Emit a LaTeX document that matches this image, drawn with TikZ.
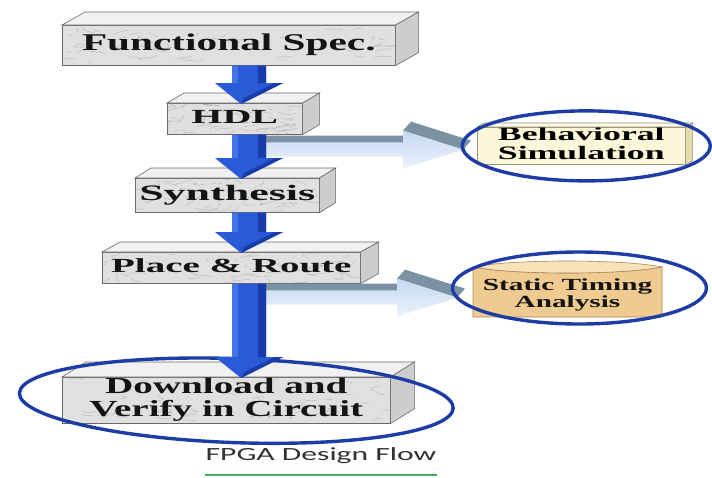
\documentclass[tikz,border=0pt]{standalone}
\usepackage{fontspec}
\setmainfont{Liberation Serif}
\newfontfamily\capfont{Carlito}
\usetikzlibrary{calc}

\definecolor{flowblue}{RGB}{43,90,216}
\definecolor{flowlight}{RGB}{66,116,232}
\definecolor{flowdark}{RGB}{26,60,170}
\definecolor{edge}{RGB}{105,105,105}
\definecolor{marblefront}{RGB}{224,224,224}
\definecolor{marbletop}{RGB}{241,241,241}
\definecolor{marbleside}{RGB}{205,205,205}
\definecolor{slate}{RGB}{122,146,162}
\definecolor{paleblue}{RGB}{198,216,241}
\definecolor{paleblue2}{RGB}{236,243,252}
\definecolor{ringblue}{RGB}{30,60,166}
\definecolor{cream}{RGB}{252,247,216}
\definecolor{creamside}{RGB}{228,220,170}
\definecolor{creamtop}{RGB}{253,251,232}
\definecolor{creamedge}{RGB}{150,145,120}
\definecolor{tanfront}{RGB}{239,203,145}
\definecolor{tantop}{RGB}{247,226,186}
\definecolor{tanedge}{RGB}{170,135,90}
\definecolor{capgreen}{RGB}{70,170,88}
\definecolor{captext}{RGB}{50,50,50}

% horizontally widened bold label, one or more centred lines
\newcommand\lbl[4]{\scalebox{#1}[1]{\fontsize{#2}{#3}\selectfont\bfseries\begin{tabular}{@{}c@{}}#4\end{tabular}}}

% top and right faces of a solid block whose front face is node #1
\newcommand\solidfaces[3]{%
  \filldraw[fill=marbletop, draw=edge, line width=0.6pt]
    (#1.north west) -- ++(#2,#3) -- ([shift={(#2,#3)}]#1.north east) -- (#1.north east) -- cycle;
  \filldraw[fill=marbleside, draw=edge, line width=0.6pt]
    (#1.north east) -- ++(#2,#3) -- ([shift={(#2,#3)}]#1.south east) -- (#1.south east) -- cycle;
}

% thick blue downward flow arrow: #1 top of shaft (on the spine), #2 tip
\newcommand\flowdown[2]{%
  \fill[flowblue] let \p1=(#1), \p2=(#2) in
    ({\x1-17pt},\y1) -- ({\x1+17pt},\y1) -- ({\x1+17pt},{\y2+21pt}) -- ({\x1+34pt},{\y2+21pt})
    -- (\x2,\y2) -- ({\x1-34pt},{\y2+21pt}) -- ({\x1-17pt},{\y2+21pt}) -- cycle;
  \fill[flowlight] let \p1=(#1), \p2=(#2) in
    ({\x1-17pt},\y1) -- ({\x1-11pt},\y1) -- ({\x1-11pt},{\y2+21pt}) -- ({\x1-17pt},{\y2+21pt}) -- cycle;
  \fill[flowdark] let \p1=(#1), \p2=(#2) in
    ({\x1+9pt},\y1) -- ({\x1+17pt},\y1) -- ({\x1+17pt},{\y2+21pt}) -- ({\x1+9pt},{\y2+21pt}) -- cycle
    ({\x1+34pt},{\y2+21pt}) -- (\x2,\y2) -- ({\x2+3pt},{\y2+6pt}) -- ({\x1+26pt},{\y2+21pt}) -- cycle;
}

% flat side arrow with a dark top face: #1 top-left of its shaft, #2 tip (x used)
\newcommand\flatarrow[2]{%
  \fill[slate] let \p1=(#1), \p2=(#2), \n1={\y1-14pt}, \n2={\x2-60pt} in
    (\x1,\y1) -- (\n2,\y1) -- (\n2,{\y1-7pt}) -- (\x1,{\y1-7pt}) -- cycle
    (\n2,{\n1+19}) -- ({\n2+8},{\n1+28}) -- ({\x2+8pt},{\n1+9}) -- (\x2,\n1) -- cycle;
  \shade[top color=paleblue, bottom color=paleblue2] let \p1=(#1), \p2=(#2), \n1={\y1-14pt}, \n2={\x2-60pt} in
    (\x1,{\y1-7pt}) -- (\n2,{\y1-7pt}) -- (\n2,{\n1+19}) -- (\x2,\n1) -- (\n2,{\n1-19})
    -- (\n2,{\y1-21pt}) -- (\x1,{\y1-21pt}) -- cycle;
}

\tikzset{
  marble/.style={draw=black!45, line width=0.5pt, opacity=0.4},
  stagebox/.style={draw=edge, line width=0.6pt, fill=marblefront, inner sep=0pt,
    anchor=north west, text=black!92,
    path picture={
      \foreach \k in {1,...,60}{
        \draw[marble] let \p1=(path picture bounding box.south west),
                          \p2=(path picture bounding box.north east) in
          ({\x1+rnd*(\x2-\x1)},{\y1+rnd*(\y2-\y1)})
          .. controls +({rnd*16-8},{rnd*6-3}) and +({rnd*16-8},{rnd*6-3}) .. +({rnd*34-17},{rnd*8-4});
      }
    }},
  ring/.style={draw=ringblue, line width=3.4pt},
}

\begin{document}
\begin{tikzpicture}[x=1pt, y=1pt]
  \pgfmathsetseed{4127}
  \fill[white] (0,0) rectangle (712,-477);
  \useasboundingbox (0,0) rectangle (712,-477);

  \coordinate (spine) at (249,0);

  % design-flow stages
  \node[stagebox, minimum width=333pt, minimum height=40pt] (fs) at (62,-25)
    {\lbl{1.72}{24}{26}{Functional Spec.}};
  \solidfaces{fs}{23}{13}
  \node[stagebox, minimum width=135pt, minimum height=31pt] (hdl) at (167,-103)
    {\lbl{2.0}{20}{22}{HDL}};
  \solidfaces{hdl}{17}{10}
  \node[stagebox, minimum width=184pt, minimum height=34pt] (syn) at (135,-178)
    {\lbl{2.0}{22}{24}{Synthesis}};
  \solidfaces{syn}{16}{10}
  \node[stagebox, minimum width=258pt, minimum height=31pt] (pr) at (102,-252)
    {\lbl{1.95}{20}{22}{Place \& Route}};
  \solidfaces{pr}{18}{10}
  \node[stagebox, minimum width=328pt, minimum height=46pt] (dl) at (62,-377)
    {\lbl{1.7}{23}{21}{Download and\\Verify in Circuit}};
  \solidfaces{dl}{24}{15}

  % verification steps
  \node[draw=creamedge, line width=0.6pt, fill=cream, inner sep=0pt, anchor=north west,
        minimum width=208pt, minimum height=36pt] (beh) at (477,-127)
    {\lbl{1.88}{19}{18}{Behavioral\\Simulation}};
  \filldraw[fill=creamtop, draw=creamedge, line width=0.6pt]
    (beh.north west) -- ++(7,4) -- ([shift={(7,4)}]beh.north east) -- (beh.north east) -- cycle;
  \filldraw[fill=creamside, draw=creamedge, line width=0.6pt]
    (beh.north east) -- ++(7,4) -- ([shift={(7,4)}]beh.south east) -- (beh.south east) -- cycle;

  \coordinate (stat) at (473,-267);
  \coordinate (statse) at (662,-317);
  \filldraw[fill=tanfront, draw=tanedge, line width=0.6pt]
    (stat) .. controls +(40,-8) and +(-40,-8) .. (stat -| statse) -- (statse) -- (stat |- statse) -- cycle;
  \filldraw[fill=tantop, draw=tanedge, line width=0.6pt]
    (stat) .. controls +(40,-8) and +(-40,-8) .. (stat -| statse)
    .. controls +(-40,8) and +(40,8) .. (stat);
  \node[inner sep=0pt, text=black!92] (stattext) at ($(stat)!0.5!(statse)+(0,-4)$)
    {\lbl{1.72}{17}{17}{Static Timing\\Analysis}};

  % side arrows towards the verification steps
  \flatarrow{$(spine |- hdl.south)+(13,-1)$}{$(beh.west)+(-14,0)$}
  \flatarrow{$(spine |- pr.south)+(13,0)$}{$(stat |- stattext)+(-16,0)$}

  % ring round the final stage
  \draw[ring, rotate around={-2:($(dl.center)+(10,0)$)}] ($(dl.center)+(10,0)$) ellipse [x radius=217, y radius=42];

  % main flow arrows
  \coordinate (t1) at ($(spine |- hdl.north)+(-8,-1)$);
  \coordinate (t2) at ($(spine |- syn.north)+(-8,-1)$);
  \coordinate (t3) at ($(spine |- pr.north)+(-8,-1)$);
  \coordinate (t4) at ($(spine |- dl.north)+(-8,-1)$);
  \flowdown{spine |- fs.south}{t1}
  \flowdown{spine |- hdl.south}{t2}
  \flowdown{spine |- syn.south}{t3}
  \flowdown{spine |- pr.south}{t4}

  % rings round the verification steps
  \draw[ring] ($(beh.center)+(5,0)$) ellipse [x radius=124, y radius=35];
  \draw[ring] ($(stattext.center)+(12,8)$) ellipse [x radius=127, y radius=36];

  % caption
  \node[anchor=base, inner sep=0pt, text=captext] (cap) at (321,-460)
    {\scalebox{1.7}[1]{\capfont\fontsize{18.6}{22}\selectfont FPGA Design Flow}};
  \draw[capgreen, line width=1.4pt] ([yshift=-15pt]cap.base west) -- ([yshift=-15pt]cap.base east);
\end{tikzpicture}
\end{document}
